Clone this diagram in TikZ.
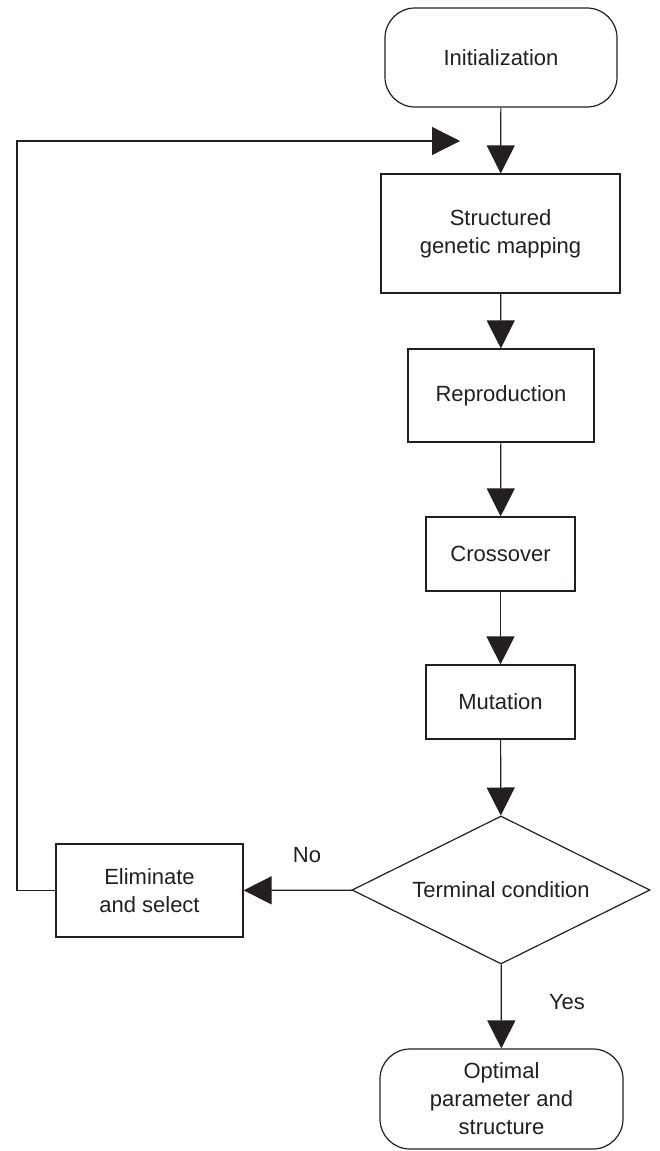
\documentclass[tikz,border=0pt]{standalone}
\usepackage{fontspec}
\setmainfont{Liberation Sans}
\usetikzlibrary{arrows.meta,shapes.geometric}
\definecolor{ink}{RGB}{35,31,32}

\begin{document}
\begin{tikzpicture}[
    x=0.5pt, y=-0.5pt,
    every node/.style={draw=ink, line width=0.6pt, text=ink, align=center,
      font=\fontsize{11}{14}\selectfont, inner sep=0pt},
    box/.style={rectangle},
    term/.style={rectangle, rounded corners=15pt},
    cond/.style={diamond, aspect=2, minimum width=149pt, minimum height=74pt},
    lbl/.style={draw=none},
    flow/.style={draw=ink, line width=0.6pt, -{Triangle[length=14pt, width=14pt]}}
]
  \useasboundingbox (0,0) rectangle (659,1151);

  \node[term, minimum width=116pt, minimum height=49.5pt] (init) at (501,57.5) {Initialization};
  \node[box, minimum width=119.5pt, minimum height=59.5pt] (map) at (500.5,233.5) {Structured\\genetic mapping};
  \node[box, minimum width=93pt, minimum height=46.5pt] (repro) at (501,395.5) {Reproduction};
  \node[box, minimum width=74.5pt, minimum height=37pt] (cross) at (500.5,554) {Crossover};
  \node[box, minimum width=74.5pt, minimum height=37pt] (mut) at (500.5,702) {Mutation};
  \node[cond] (term) at (501,890) {Terminal condition};
  \node[box, minimum width=93.5pt, minimum height=46.5pt] (elim) at (149.5,890.5) {Eliminate\\and select};
  \node[term, minimum width=121.5pt, minimum height=50pt] (opt) at (501.5,1099) {Optimal\\parameter and\\structure};

  % main flow
  \draw[flow] (init) -- (map);
  \draw[flow] (map) -- (repro);
  \draw[flow] (repro) -- (cross);
  \draw[flow] (cross) -- (mut);
  \draw[flow] (mut) -- (term);
  \draw[flow] (term) -- (opt);
  \draw[flow] (term) -- (elim);

  % loop back
  \coordinate (back) at (460,141);
  \draw[flow] (elim.west) -- (17,890.5) |- (back);

  \node[lbl] (no) at (307,855) {No};
  \node[lbl] (yes) at (567,1002) {Yes};
\end{tikzpicture}
\end{document}
